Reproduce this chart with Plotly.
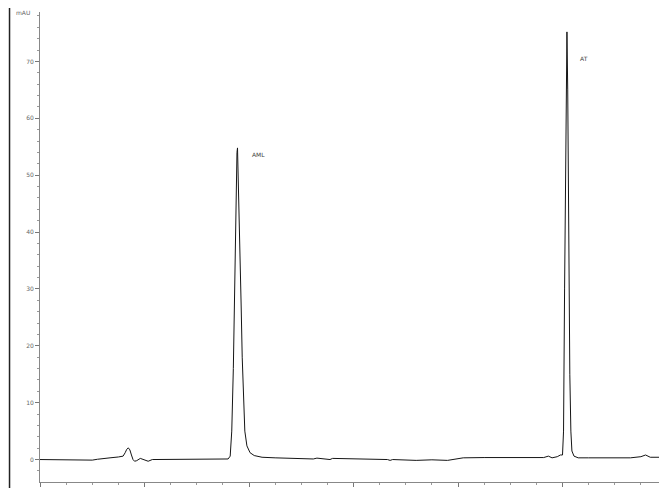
import plotly.graph_objects as go

# retention time (min) and detector signal (mAU)
time = [0.0, 0.5, 0.92, 1.0, 1.1, 1.2, 1.34, 1.5, 1.59, 1.63,
        1.66, 1.69, 1.72, 1.75, 1.78, 1.81, 1.85, 1.92, 1.99, 2.07,
        2.15, 2.5, 3.0, 3.4, 3.6, 3.64, 3.67, 3.70, 3.72, 3.745,
        3.77, 3.78, 3.80, 3.83, 3.85, 3.87, 3.89, 3.92, 3.96, 4.02,
        4.10, 4.25, 4.5, 5.0, 5.23, 5.3, 5.55, 5.6, 6.0, 6.65,
        6.7, 6.75, 7.2, 7.5, 7.8, 8.0, 8.1, 8.5, 9.0, 9.5,
        9.64, 9.73, 9.8, 9.9, 9.96, 10.0, 10.02, 10.04, 10.06, 10.085,
        10.10, 10.12, 10.14, 10.16, 10.18, 10.22, 10.3, 10.5, 11.0, 11.3,
        11.5, 11.59, 11.68, 11.8, 12.0]
signal = [0.0, 0.0, 0.0, -0.1, 0.05, 0.2, 0.3, 0.45, 0.6, 1.2,
          1.8, 2.05, 1.7, 0.8, 0.0, -0.3, -0.2, 0.2, 0.0, -0.3,
          0.0, 0.0, 0.0, 0.0, 0.1, 0.6, 5.0, 16.0, 27.0, 44.0,
          54.0, 54.8, 48.0, 35.0, 27.0, 18.0, 11.0, 5.0, 2.4, 1.2,
          0.7, 0.4, 0.3, 0.2, 0.1, 0.25, 0.0, 0.2, 0.1, 0.0,
          -0.15, 0.0, -0.15, -0.05, -0.15, 0.2, 0.3, 0.35, 0.4, 0.4,
          0.35, 0.6, 0.3, 0.5, 0.8, 0.8, 5.0, 30.0, 58.0, 75.2,
          65.0, 38.0, 15.0, 5.0, 1.5, 0.6, 0.3, 0.3, 0.3, 0.3,
          0.5, 0.8, 0.4, 0.4, 0.4]

peak_names = ["AML", "AT"]
peak_label_x = [4.02, 10.29]
peak_label_y = [53.7, 70.6]

x_ticks = [0, 2, 4, 6, 8, 10, 12]
y_ticks = [0, 10, 20, 30, 40, 50, 60, 70]

tick_font = dict(family="DejaVu Sans", size=6, color="#666")

fig = go.Figure()
fig.add_scatter(x=time, y=signal, mode="lines",
                line=dict(color="#151515", width=1), showlegend=False)

for name, px, py in zip(peak_names, peak_label_x, peak_label_y):
    fig.add_annotation(x=px, y=py, text=name, showarrow=False,
                       xanchor="left", yanchor="middle",
                       font=dict(family="DejaVu Sans", size=6, color="#444"))

fig.add_annotation(xref="paper", yref="paper", x=-0.012, y=1.0,
                   text="mAU", showarrow=False, xanchor="right", yanchor="middle",
                   font=dict(family="DejaVu Sans", size=6, color="#666"))

# dark frame line at the far left of the page
fig.add_shape(type="line", xref="paper", yref="paper",
              x0=-0.0486, x1=-0.0486, y0=-0.03, y1=1.03,
              line=dict(color="#222", width=1.5))

fig.update_xaxes(range=[0, 12], tickvals=x_ticks, ticks="outside", ticklen=4,
                 tickcolor="#777", showline=True, linecolor="#888", linewidth=1,
                 showgrid=False, zeroline=False, tickfont=tick_font, automargin=False,
                 minor=dict(dtick=0.5, ticks="outside", ticklen=2, tickcolor="#999"))
fig.update_yaxes(range=[-3.95, 78.7], tickvals=y_ticks, ticks="outside", ticklen=4,
                 tickcolor="#777", showline=True, linecolor="#888", linewidth=1,
                 showgrid=False, zeroline=False, tickfont=tick_font, automargin=False,
                 minor=dict(dtick=2, ticks="outside", ticklen=2, tickcolor="#999"))

# page body has an 8px margin, so the figure is shifted to line up with the reference
fig.update_layout(width=659, height=480, margin=dict(l=32, r=0, t=4, b=6),
                  plot_bgcolor="white", paper_bgcolor="white")

fig.write_html("out.html")
